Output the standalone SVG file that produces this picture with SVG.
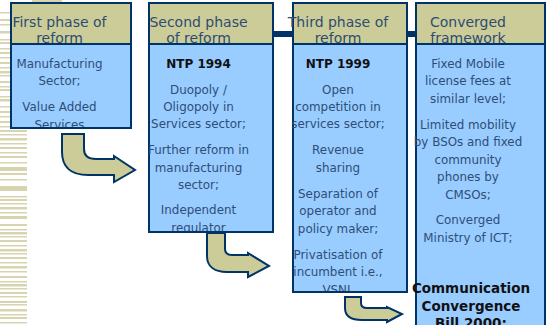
<svg xmlns="http://www.w3.org/2000/svg" width="547" height="325" viewBox="0 0 547 325">
  <style>
    .hd { fill: #CCCC99; stroke: #003366; stroke-width: 2; }
    .bd { fill: #99CCFF; stroke: #003366; stroke-width: 2; }
    .ht { font-family: "DejaVu Sans", "Liberation Sans", sans-serif; font-size: 14px; fill: #2E4C72; text-anchor: middle; }
    .bt { font-family: "DejaVu Sans", "Liberation Sans", sans-serif; font-size: 11.9px; fill: #2E4E78; text-anchor: middle; }
    .bb { font-family: "DejaVu Sans", "Liberation Sans", sans-serif; font-size: 12px; font-weight: bold; fill: #111111; text-anchor: middle; }
    .bl { font-family: "DejaVu Sans", "Liberation Sans", sans-serif; font-size: 13.5px; font-weight: bold; fill: #111111; text-anchor: middle; }
    .arr { fill: #CCCC99; stroke: #003366; stroke-width: 2; stroke-linejoin: miter; }
    .deco { fill: #D8D4B0; }
  </style>
  <defs>
    <clipPath id="clip1"><rect x="0" y="45" width="547" height="82"/></clipPath>
    <clipPath id="clip2"><rect x="0" y="45" width="547" height="186"/></clipPath>
    <clipPath id="clip3"><rect x="0" y="45" width="547" height="246"/></clipPath>
    <clipPath id="clip4"><rect x="0" y="45" width="547" height="300"/></clipPath>
  </defs>

  <!-- white slide background with striped left margin -->
  <rect width="547" height="325" fill="#FFFFFF"/>
  <rect class="deco" x="32" y="0" width="30" height="3"/>
  <path class="deco" d="M0 12h27v1.5H0z M0 19h27v2H0z M0 24h27v1.5H0z M0 31h27v2.5H0z M0 39h27v1.5H0z M0 42h27v2H0z M0 48h27v1.5H0z M0 52h27v2H0z M0 57h27v1.5H0z M0 62h27v2H0z M0 67h27v1.5H0z M0 71h27v2.5H0z M0 75h27v1.5H0z M0 81h27v2H0z M0 86h27v1.5H0z M0 89h27v2H0z M0 96h27v1.5H0z M0 99h27v2.5H0z M0 106h27v1.5H0z M0 111h27v2H0z M0 116h27v1.5H0z M0 121h27v2H0z M0 126h27v1.5H0z M0 130h27v2H0z M0 134h27v1.5H0z M0 138h27v2.5H0z M0 143h27v1.5H0z M0 147h27v2H0z M0 152h27v1.5H0z M0 156h27v2H0z M0 162h27v1.5H0z M0 167h27v4H0z M0 173h27v2H0z M0 179h27v1.5H0z M0 186h27v5H0z M0 196h27v1.5H0z M0 199h27v2H0z M0 203h27v1.5H0z M0 207h27v2.5H0z M0 212h27v1.5H0z M0 216h27v3H0z M0 224h27v2H0z M0 229h27v1.5H0z M0 232h27v2.5H0z M0 236h27v1.5H0z M0 240h27v2H0z M0 245h27v1.5H0z M0 249h27v2.5H0z M0 253h27v1.5H0z M0 257h27v2H0z M0 262h27v1.5H0z M0 266h27v2.5H0z M0 271h27v1.5H0z M0 276h27v2H0z M0 281h27v1.5H0z M0 284h27v2.5H0z M0 288h27v1.5H0z M0 292h27v2H0z M0 296h27v1.5H0z M0 301h27v2H0z M0 304h27v1.5H0z M0 309h27v2.5H0z M0 314h27v1.5H0z M0 317h27v2H0z M0 322h27v1.5H0z"/>

  <!-- bar joining the later phase headers -->
  <rect x="273" y="31" width="143" height="6" fill="#003366"/>

  <g id="phase1">
    <rect class="hd" x="11" y="3" width="120" height="41"/>
    <text class="ht" x="59.5" y="26.5">First phase of</text>
    <text class="ht" x="59.5" y="43">reform</text>
    <rect class="bd" x="11" y="44" width="120" height="84"/>
    <g clip-path="url(#clip1)">
      <text class="bt" x="59.5" y="67.5">Manufacturing</text>
      <text class="bt" x="59.5" y="85">Sector;</text>
      <text class="bt" x="59.5" y="111">Value Added</text>
      <text class="bt" x="59.5" y="128.5">Services</text>
    </g>
  </g>

  <g id="phase2">
    <rect class="hd" x="149" y="3" width="124" height="41"/>
    <text class="ht" x="198.5" y="26.5">Second phase</text>
    <text class="ht" x="198.5" y="43">of reform</text>
    <rect class="bd" x="149" y="44" width="124" height="188"/>
    <g clip-path="url(#clip2)">
      <text class="bb" x="198.5" y="68">NTP 1994</text>
      <text class="bt" x="198.5" y="93.5">Duopoly /</text>
      <text class="bt" x="198.5" y="111">Oligopoly in</text>
      <text class="bt" x="198.5" y="128">Services sector;</text>
      <text class="bt" x="198.5" y="154">Further reform in</text>
      <text class="bt" x="198.5" y="171.5">manufacturing</text>
      <text class="bt" x="198.5" y="189">sector;</text>
      <text class="bt" x="198.5" y="214">Independent</text>
      <text class="bt" x="198.5" y="231.5">regulator</text>
    </g>
  </g>

  <g id="phase3">
    <rect class="hd" x="293" y="3" width="114" height="41"/>
    <text class="ht" x="338" y="26.5">Third phase of</text>
    <text class="ht" x="338" y="43">reform</text>
    <rect class="bd" x="293" y="44" width="114" height="248"/>
    <g clip-path="url(#clip3)">
      <text class="bb" x="338" y="68">NTP 1999</text>
      <text class="bt" x="338" y="93.5">Open</text>
      <text class="bt" x="338" y="111">competition in</text>
      <text class="bt" x="338" y="128">services sector;</text>
      <text class="bt" x="338" y="154">Revenue</text>
      <text class="bt" x="338" y="171.5">sharing</text>
      <text class="bt" x="338" y="197.5">Separation of</text>
      <text class="bt" x="338" y="215">operator and</text>
      <text class="bt" x="338" y="232.5">policy maker;</text>
      <text class="bt" x="338" y="258.5">Privatisation of</text>
      <text class="bt" x="338" y="276">incumbent i.e.,</text>
      <text class="bt" x="338" y="293.5">VSNL</text>
    </g>
  </g>

  <g id="converged">
    <rect class="hd" x="416" y="3" width="129" height="41"/>
    <text class="ht" x="468" y="26.5">Converged</text>
    <text class="ht" x="468" y="43">framework</text>
    <rect class="bd" x="416" y="44" width="129" height="300"/>
    <g clip-path="url(#clip4)">
      <text class="bt" x="468" y="67.5">Fixed Mobile</text>
      <text class="bt" x="468" y="85">license fees at</text>
      <text class="bt" x="468" y="102.5">similar level;</text>
      <text class="bt" x="468" y="128.5">Limited mobility</text>
      <text class="bt" x="468" y="146">by BSOs and fixed</text>
      <text class="bt" x="468" y="163.5">community</text>
      <text class="bt" x="468" y="181">phones by</text>
      <text class="bt" x="468" y="198.5">CMSOs;</text>
      <text class="bt" x="468" y="224">Converged</text>
      <text class="bt" x="468" y="241.5">Ministry of ICT;</text>
      <text class="bl" x="471" y="293">Communication</text>
      <text class="bl" x="471" y="311">Convergence</text>
      <text class="bl" x="471" y="328">Bill 2000:</text>
    </g>
  </g>

  <!-- bent block arrows leading from one phase to the next -->
  <g id="connectors">
    <path class="arr" d="M62,134 H84 V149 Q84,159 96,159 H114 V156 L135,170 L114,182 V175 H88 C70,175 62,166 62,152 Z"/>
    <path class="arr" d="M207,233 H225 V249 Q225,255 232,255 H248 V253 L269,266 L248,277 V272 H227 C214,272 207,266 207,256 Z"/>
    <path class="arr" d="M345,297 H361 V303 Q361,308 367,308 H387 V307 L402,314 L387,322 V320 H362 C350,320 345,315 345,308 Z"/>
  </g>
</svg>
